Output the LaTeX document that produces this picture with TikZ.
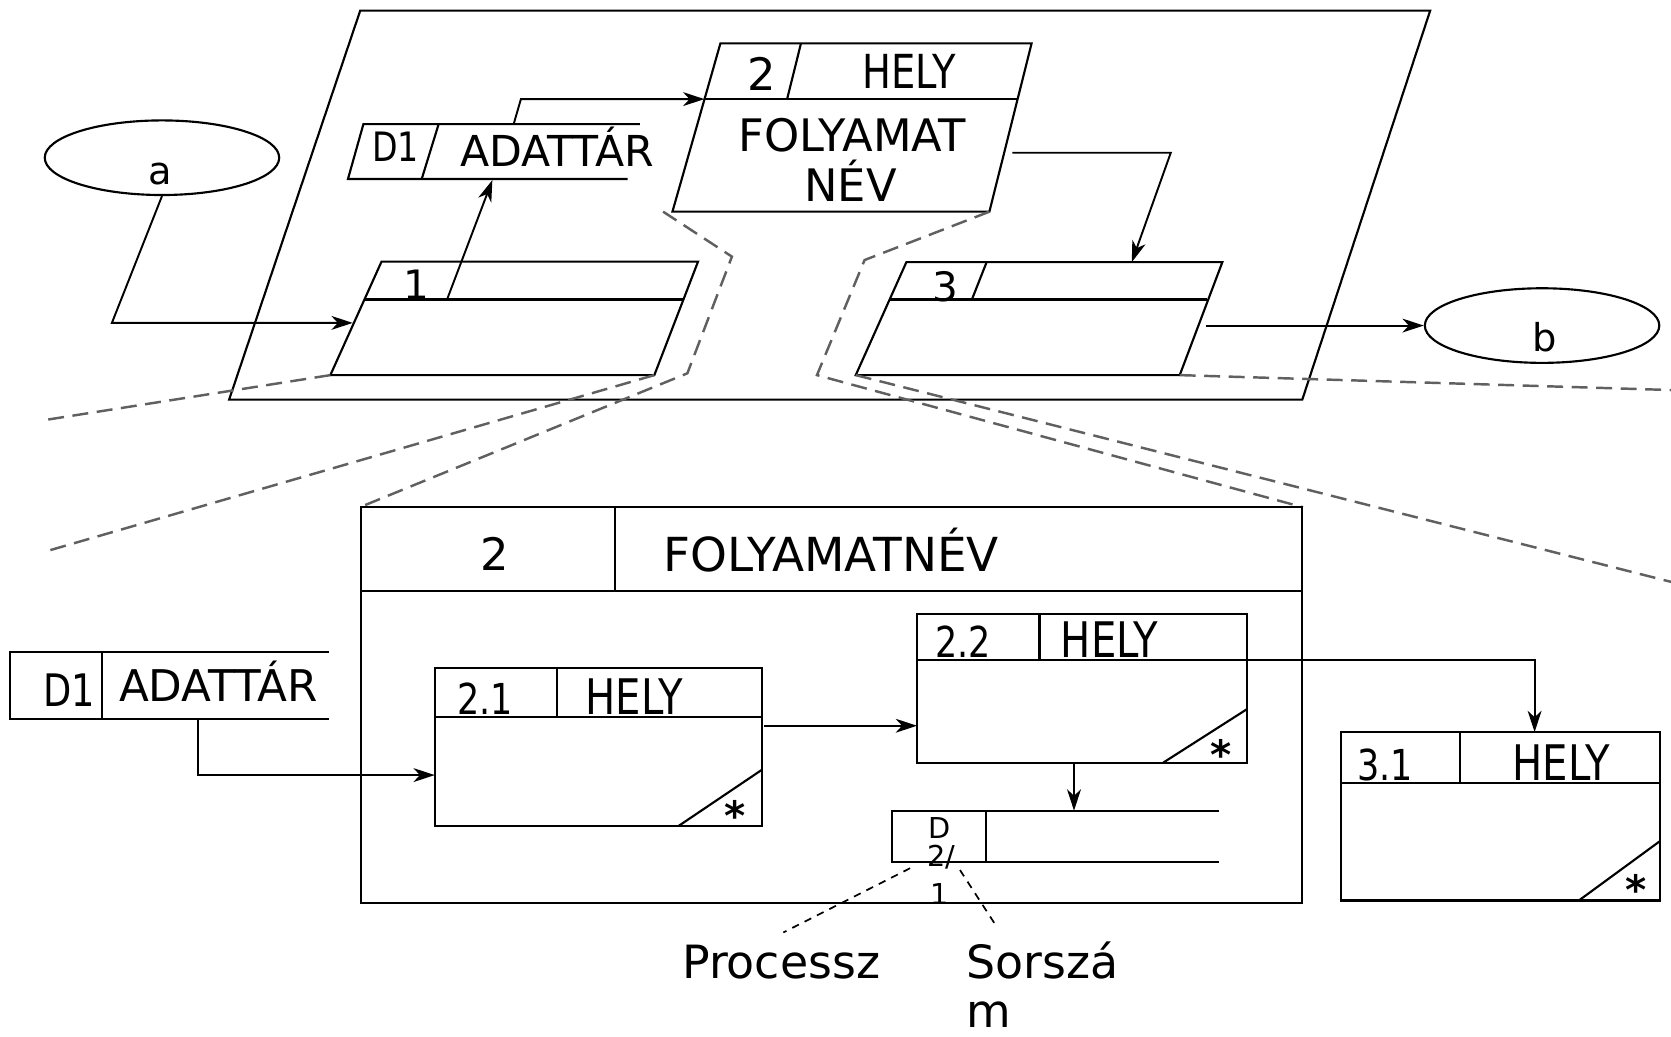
\documentclass[tikz,border=0pt]{standalone}
\usepackage{fontspec}
\setmainfont{DejaVu Sans}
\newfontfamily\cnd[FakeStretch=0.82]{DejaVu Sans}
\usetikzlibrary{shapes.geometric,arrows.meta}
\definecolor{dgray}{RGB}{96,96,96}
\newcommand\fsz[1]{\fontsize{#1}{#1}\selectfont}
\tikzset{
  ln/.style={line width=2pt},
  arr/.style={line width=1.8pt,-{Stealth[length=20pt,width=13pt,inset=6pt]}},
  gdash/.style={line width=2.3pt,draw=dgray,dash pattern=on 15pt off 8pt},
  bdash/.style={line width=1.6pt,dash pattern=on 7pt off 6pt},
  tx/.style={inner sep=0pt,anchor=base},
  star/.style={inner sep=0pt,anchor=north,font=\bfseries\fsz{38}},
}
\begin{document}
\begin{tikzpicture}[x=1pt,y=-1pt]
\useasboundingbox (0,0) rectangle (1568,973);

% ---------- upper diagram ----------
\draw[ln] (338,10) -- (1342,10) -- (1222,375) -- (215,375) -- cycle;

% external entity a
\node[ellipse,draw,ln,minimum width=220pt,minimum height=70pt,inner sep=0pt] (ea) at (152,148) {};
\node[tx,font=\fsz{36}] (la) at (150,173) {a};

% process 1
\draw[ln] (358,245.5) -- (655,245.5) -- (614,352) -- (310,352) -- cycle;
\draw[ln] (342,281) -- (641,281);
\node[tx,font=\fsz{38}] (l1) at (391,281) {1};

% data store D1 (top)
\draw[ln] (600.5,116.5) -- (341,116.5) -- (326.5,168) -- (589,168);
\draw[ln] (411.6,116.5) -- (395.7,168);
\node[tx,font=\cnd\fsz{38}] (ld1) at (371,152) {D1};
\node[tx,font=\fsz{40}] (lad1) at (523,156) {ADATTÁR};

% process 2 (top)
\draw[ln] (676,40.7) -- (968,40.7) -- (928.4,198.6) -- (631,198.6) -- cycle;
\draw[ln] (661,93) -- (954.8,93);
\draw[ln] (751.6,40.7) -- (738.6,93);
\node[tx,font=\fsz{42}] (l2) at (715,84.5) {2};
\node[tx,font=\cnd\fsz{44}] (lh2) at (853,83) {HELY};
\node[tx,font=\fsz{42}] (lf) at (800,142) {FOLYAMAT};
\node[tx,font=\fsz{42}] (ln2) at (798,189) {NÉV};

% process 3
\draw[ln] (850.5,246) -- (1147,246) -- (1107,352) -- (803,352) -- cycle;
\draw[ln] (834,281) -- (1133,281);
\draw[ln] (925.8,246) -- (912,281);
\node[tx,font=\fsz{38}] (l3) at (887.5,283) {3};

% external entity b
\node[ellipse,draw,ln,minimum width=220pt,minimum height=70pt,inner sep=0pt] (eb) at (1447,305.5) {};
\node[tx,font=\fsz{36}] (lb) at (1449,330) {b};

% connectors (upper)
\coordinate (p1in) at (331,303);
\coordinate (p1div) at (419.5,281);
\coordinate (d1bot) at (462,169);
\coordinate (d1top) at (482,116.5);
\coordinate (p2in) at (661,93);
\coordinate (p2out) at (950,143.3);
\coordinate (p3in) at (1062,246);
\coordinate (p3out) at (1131.7,305.5);
\draw[arr] (ea.south) -- (105,303) -- (p1in);
\draw[arr] (p1div) -- (d1bot);
\draw[arr] (d1top) -- (488.8,93) -- (p2in);
\draw[arr] (p2out) -- (1098.6,143.3) -- (p3in);
\draw[arr] (p3out) -- (eb.west);

% zoom guide lines
\draw[gdash] (310,352) -- (43,394);
\draw[gdash] (614,352) -- (42,517.7);
\draw[gdash] (622.2,198.6) -- (686.8,240.8) -- (645,350.3) -- (338.8,475.5);
\draw[gdash] (928.5,198.6) -- (811.3,244) -- (766.6,352) -- (1222.7,476);
\draw[gdash] (803,352) -- (1568,546);
\draw[gdash] (1107,352) -- (1568,366);

% ---------- lower diagram ----------
\draw[ln] (338.8,475.5) rectangle (1221.5,847);
\draw[ln] (338.8,554.5) -- (1221.5,554.5);
\draw[ln] (577,475.5) -- (577,554.5);
\node[tx,font=\fsz{42}] (lb2) at (464,535) {2};
\node[tx,font=\fsz{44}] (lfn) at (780,536) {FOLYAMATNÉV};

% data store D1 (bottom)
\draw[ln] (308.7,612) -- (9.6,612) -- (9.6,674.7) -- (308.7,674.7);
\draw[ln] (95.7,612) -- (95.7,674.7);
\node[tx,font=\cnd\fsz{42}] (lbd1) at (65,663) {D1};
\node[tx,font=\fsz{41}] (lbad) at (205,658) {ADATTÁR};

% process 2.1
\draw[ln] (408,626.5) rectangle (714.7,775);
\draw[ln] (408,672.5) -- (714.7,672.5);
\draw[ln] (522.7,626.5) -- (522.7,672.5);
\draw[ln] (636.8,775) -- (714.7,722.5);
\node[tx,font=\cnd\fsz{40}] (l21) at (455,670) {2.1};
\node[tx,font=\cnd\fsz{46}] (lh21) at (595,670) {HELY};
\node[star] (s21) at (690,751) {*};

% process 2.2
\draw[ln] (860.5,576.5) rectangle (1170,715.7);
\draw[ln] (860.5,619.3) -- (1170,619.3);
\draw[ln] (975.4,576.5) -- (975.4,619.3);
\draw[ln] (1091.4,715.7) -- (1170,665.5);
\node[tx,font=\cnd\fsz{40}] (l22) at (904,617) {2.2};
\node[tx,font=\cnd\fsz{46}] (lh22) at (1041,617) {HELY};
\node[star] (s22) at (1146,694) {*};

% data store D2/1
\draw[ln] (1144,760.7) -- (837,760.7) -- (837,808.5) -- (1144,808.5);
\draw[ln] (925.3,760.7) -- (925.3,808.5);
\node[tx,font=\fsz{27}] (ld) at (882,787) {D};
\node[tx,font=\fsz{27}] (ld2) at (883,813) {2/};
\node[tx,font=\fsz{27}] (ld3) at (882,849) {1};

% process 3.1
\draw[ln] (1258,687) rectangle (1558,845);
\draw[ln] (1258,735) -- (1558,735);
\draw[ln] (1370,687) -- (1370,735);
\draw[ln] (1481.5,845) -- (1558,789);
\node[tx,font=\cnd\fsz{40}] (l31) at (1300,732) {3.1};
\node[tx,font=\cnd\fsz{46}] (lh31) at (1465,732) {HELY};
\node[star] (s31) at (1535,820) {*};

% connectors (lower)
\coordinate (d1b) at (185.8,674.7);
\coordinate (p21in) at (408,727.3);
\coordinate (p21out) at (717,681);
\coordinate (p22in) at (860.5,681);
\coordinate (p22hd) at (1170,619.3);
\coordinate (p31in) at (1440,687);
\coordinate (p22bot) at (1007.8,715.7);
\coordinate (d2top) at (1007.8,760.7);
\draw[arr] (d1b) -- (185.8,727.3) -- (p21in);
\draw[arr] (p21out) -- (p22in);
\draw[arr] (p22hd) -- (1440,619.3) -- (p31in);
\draw[arr] (p22bot) -- (d2top);

% annotations
\coordinate (a1) at (854,814.7);
\coordinate (a2) at (900.8,816.4);
\node[tx,font=\fsz{43}] (lproc) at (733,918) {Processz};
\node[tx,font=\fsz{43},anchor=base west] (lsor) at (907,918) {Sorszá};
\node[tx,font=\fsz{43},anchor=base west] (lm) at (907,964) {m};
\draw[bdash] (a1) -- (735,875);
\draw[bdash] (a2) -- (935.2,869.5);
\end{tikzpicture}
\end{document}
